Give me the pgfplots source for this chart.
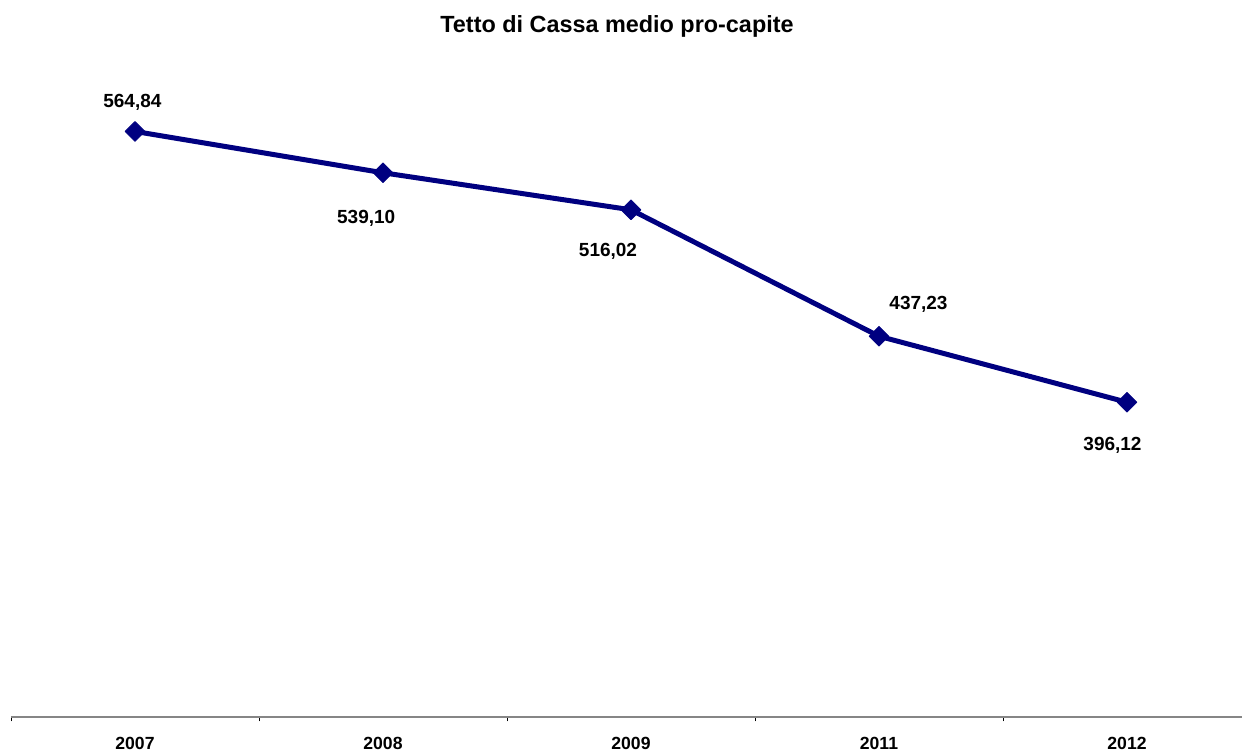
\documentclass[border=0pt]{standalone}
\usepackage{pgfplots}
\pgfplotsset{compat=1.18}
\usepackage{fontspec}
\setmainfont{Liberation Sans}
\definecolor{navy}{HTML}{000080}
\definecolor{axgray}{HTML}{868686}
\pgfplotstableread{
x y lab dx dy
0 564.84 564,84 -1.3 12.2
1 539.10 539,10 -8.4 -25.3
2 516.02 516,02 -11.5 -23.3
3 437.23 437,23 19.75 13.3
4 396.12 396,12 -7.25 -24
}\datatable
\begin{document}
\begin{tikzpicture}
\path[use as bounding box] (0,0) rectangle (621pt,-375.5pt);
\node[font=\fontsize{11.7}{14}\selectfont\bfseries] at (308.5pt,-13pt) {Tetto di Cassa medio pro-capite};
\begin{axis}[
 at={(5.5pt,-358.5pt)}, anchor=south west,
 scale only axis, width=620pt, height=321pt,
 xmin=-0.5, xmax=4.5, ymin=200, ymax=600,
 axis x line*=bottom, axis y line=none,
 axis line style={draw=axgray, line width=0.6pt},
 xtick={0,...,4}, xticklabels={2007,2008,2009,2011,2012},
 major tick length=0pt,
 minor xtick={-0.5,0.5,1.5,2.5,3.5,4.5},
 minor tick length=2.2pt, tick align=outside,
 minor tick style={black, line width=0.5pt},
 xticklabel style={font=\fontsize{8.8}{10}\selectfont\bfseries, anchor=base, yshift=-16pt, inner sep=0pt},
 clip=false,
]
\addplot[navy, line width=2.5pt, line join=round, mark=square*, mark size=3.5pt,
 mark options={rotate=45, solid, line width=0.4pt},
 nodes near coords, point meta=explicit symbolic,
 visualization depends on={\thisrow{dx}\as\dx},
 visualization depends on={\thisrow{dy}\as\dy},
 nodes near coords style={anchor=base, inner sep=0pt, xshift=\dx pt, yshift=\dy pt,
   font=\fontsize{9.5}{11}\selectfont\bfseries, text=black}]
 table[x=x, y=y, meta=lab] {\datatable};
\end{axis}
\end{tikzpicture}
\end{document}
